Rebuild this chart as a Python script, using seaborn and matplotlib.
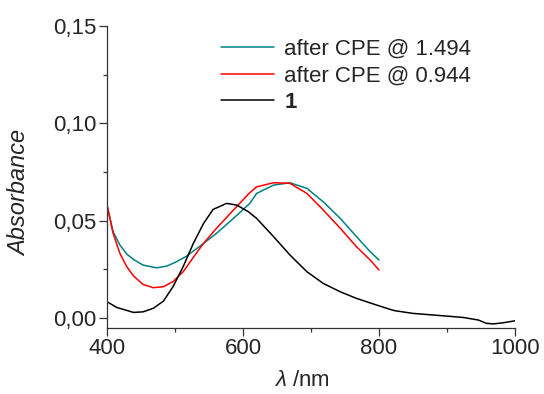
import numpy as np
import pandas as pd
import matplotlib
matplotlib.use("Agg")
import matplotlib.pyplot as plt
from matplotlib.ticker import MultipleLocator, FuncFormatter
import seaborn as sns

# ---- data ----
x_teal = [400, 409, 419, 429, 439, 453, 473, 488, 502, 517, 537, 561, 586, 610, 620, 645, 669,
          694, 718, 743, 767, 787, 800]
y_teal = [0.058, 0.0443, 0.0375, 0.0329, 0.0301, 0.0272, 0.0258, 0.0267, 0.0289, 0.0318, 0.037,
          0.0435, 0.0512, 0.0589, 0.064, 0.0683, 0.0695, 0.0666, 0.0597, 0.0512, 0.0418, 0.0341,
          0.0298]

x_red = [400, 409, 419, 429, 439, 453, 468, 483, 497, 512, 527, 542, 561, 586, 610, 620, 645,
         669, 694, 718, 743, 767, 787, 800]
y_red = [0.058, 0.0435, 0.0332, 0.0264, 0.0216, 0.0173, 0.0156, 0.0161, 0.0187, 0.0238, 0.0312,
         0.0384, 0.0461, 0.0555, 0.0644, 0.0674, 0.0695, 0.0692, 0.064, 0.0555, 0.0461, 0.0366,
         0.0298, 0.0247]

x_black = [400, 414, 439, 453, 468, 483, 497, 512, 527, 542, 556, 576, 591, 608, 620, 645, 669,
           694, 718, 743, 767, 792, 816, 823, 850, 900, 924, 946, 958, 968, 983, 1000]
y_black = [0.0084, 0.0055, 0.0029, 0.0032, 0.005, 0.0087, 0.0161, 0.0264, 0.0384, 0.0486, 0.0558,
           0.0589, 0.058, 0.0546, 0.0512, 0.0418, 0.0324, 0.0238, 0.0178, 0.0135, 0.0101, 0.0072,
           0.0045, 0.0038, 0.0024, 0.001, 0.0003, -0.001, -0.0027, -0.003, -0.0024, -0.0014]

labels = ["after CPE @ 1.494", "after CPE @ 0.944", r"$\mathbf{1}$"]
colors = ["#008080", "#ff0000", "#000000"]
x_ticks = [400, 600, 800, 1000]
y_ticks = [0.00, 0.05, 0.10, 0.15]

sns.set_theme(style="ticks")
plt.rcParams['font.family'] = ['Liberation Sans', 'DejaVu Sans']
plt.rcParams['mathtext.fontset'] = 'custom'
plt.rcParams['mathtext.rm'] = 'Liberation Sans'
plt.rcParams['mathtext.it'] = 'Liberation Sans:italic'
plt.rcParams['mathtext.bf'] = 'Liberation Sans:bold'

fig = plt.figure(figsize=(5.44, 3.94), dpi=100)
ax = fig.add_axes([107/544, 1-328/394, (515-107)/544, (328-26)/394])

for xs, ys, lab, c in zip([x_teal, x_red, x_black], [y_teal, y_red, y_black], labels, colors):
    df = pd.DataFrame({"x": xs, "y": ys})
    sns.lineplot(data=df, x="x", y="y", ax=ax, color=c, lw=1.1, label=lab, sort=False)

ax.set_xlim(400, 1000)
ax.set_ylim(-0.0051, 0.15)
ax.set_xticks(x_ticks)
ax.set_yticks(y_ticks)
ax.xaxis.set_minor_locator(MultipleLocator(100))
ax.yaxis.set_minor_locator(MultipleLocator(0.025))
ax.yaxis.set_major_formatter(FuncFormatter(lambda v, p: f"{v:.2f}".replace(".", ",")))
ax.tick_params(which="major", direction="out", length=5.5, width=0.9, labelsize=16, color="#333333", pad=2)
ax.tick_params(which="minor", direction="out", length=3, width=0.9, color="#333333")
for s in ["top", "right"]:
    ax.spines[s].set_visible(False)
for s in ["left", "bottom"]:
    ax.spines[s].set_linewidth(0.9)
    ax.spines[s].set_color("#333333")

ax.set_xlabel(r"$\mathit{\lambda}$ /nm", fontsize=16)
ax.xaxis.set_label_coords(302/544, 1-381/394, transform=fig.transFigure)
ax.xaxis.label.set_va("center")
ax.set_ylabel("Absorbance", fontsize=17, style="italic")
ax.yaxis.set_label_coords(20/544, 1-193/394, transform=fig.transFigure)
ax.yaxis.label.set_va("center")

leg = ax.legend(loc="upper left", bbox_to_anchor=(221/544, 1-39/394), bbox_transform=fig.transFigure,
                frameon=False, fontsize=16, handlelength=2.4, handletextpad=0.45, labelspacing=0.25,
                borderpad=0, borderaxespad=0)
for l in leg.get_lines():
    l.set_linewidth(1.1)

fig.savefig("out.png", dpi=100)
